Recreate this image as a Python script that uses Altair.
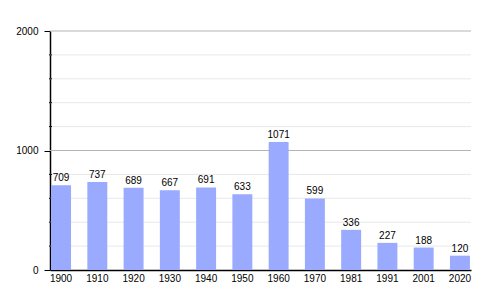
import altair as alt
import pandas as pd

years = ["1900", "1910", "1920", "1930", "1940", "1950", "1960", "1970", "1981", "1991", "2001", "2020"]
population = [709, 737, 689, 667, 691, 633, 1071, 599, 336, 227, 188, 120]
grid_values = list(range(200, 2001, 200))
major_values = [0, 1000, 2000]

df = pd.DataFrame({"year": years, "pop": population})
grid_df = pd.DataFrame({"v": grid_values, "major": [v % 1000 == 0 for v in grid_values]})
minor_df = grid_df[~grid_df["major"]]

FONT = "Liberation Sans"

y_scale = alt.Scale(domain=[0, 2000], nice=False)
y_axis = alt.Axis(values=major_values, grid=False, domainColor="black", domainWidth=1.5,
                  tickColor="black", format="d", labelOverlap=False, tickSize=6,
                  labelFontSize=10, labelColor="black", labelFont=FONT, labelPadding=6)

x_enc = alt.X("year:N", sort=years, title=None,
              scale=alt.Scale(paddingInner=0.45, paddingOuter=0.03),
              axis=alt.Axis(labelAngle=0, domainColor="black", domainWidth=1.5,
                            ticks=False, labelPadding=3, labelFontSize=10,
                            labelColor="black", labelFont=FONT))

grid = alt.Chart(grid_df).mark_rule().encode(
    y=alt.Y("v:Q", scale=y_scale, axis=y_axis, title=None),
    x=alt.value(0), x2=alt.value(421),
    color=alt.Color("major:N", scale=alt.Scale(domain=[True, False], range=["#b4b4b4", "#e8e8e8"]), legend=None),
)

minor_ticks = alt.Chart(minor_df).mark_rule(color="black").encode(
    y=alt.Y("v:Q", scale=y_scale),
    x=alt.value(-1), x2=alt.value(2),
)

bars = alt.Chart(df).mark_bar(color="#99aaff").encode(
    x=x_enc,
    y=alt.Y("pop:Q", scale=y_scale, title=None),
)

text = alt.Chart(df).mark_text(baseline="bottom", dy=-2, fontSize=10, font=FONT, color="black").encode(
    x=alt.X("year:N", sort=years),
    y=alt.Y("pop:Q", scale=y_scale),
    text="pop:Q",
)

chart = alt.layer(grid, minor_ticks, bars, text).properties(
    width=421, height=239,
    autosize=alt.AutoSizeParams(type="none"),
    padding={"left": 50, "top": 31, "right": 29, "bottom": 30},
).configure_view(stroke=None).configure_axis(labelFont=FONT)

chart.save("out.html", embed_options={"renderer": "svg", "actions": False})
